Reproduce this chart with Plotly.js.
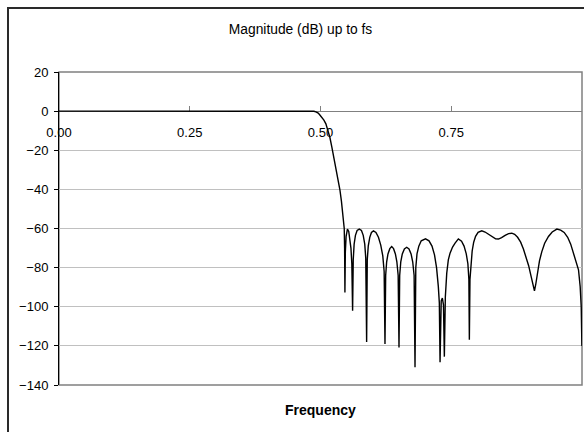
<!DOCTYPE html>
<html>
<head>
<meta charset="utf-8">
<script src="https://cdn.plot.ly/plotly-3.0.1.min.js"></script>
<style>
  html, body { margin: 0; padding: 0; background: #ffffff; overflow: hidden; }
  #chart { width: 584px; height: 432px; position: absolute; left: 0; top: 0; }
  #frame { position: absolute; left: 7px; top: 7px; width: 700px; height: 600px;
           border: 2px solid #2a2a2a; pointer-events: none; }
</style>
</head>
<body>
<div id="chart"></div>
<div id="frame"></div>
<script>
// Normalised frequency
const freq = [
  0.000, 0.100, 0.200, 0.300, 0.400, 0.470,
  0.4830, 0.4874, 0.4912, 0.4956, 0.4988, 0.5027, 0.5065, 0.5103, 0.5142, 0.5180,
  0.5218, 0.5257, 0.5295, 0.5333, 0.5371, 0.5400, 0.5423, 0.5442, 0.5454, 0.5461, 0.5467,
  0.5475, 0.5490, 0.5515, 0.5540, 0.5563, 0.5582, 0.5599, 0.5614,
  0.5626, 0.5643, 0.5668, 0.5700, 0.5741, 0.5783, 0.5817, 0.5846, 0.5865, 0.5882,
  0.5894, 0.5913, 0.5942, 0.5974, 0.6013, 0.6060, 0.6108, 0.6152, 0.6191, 0.6217, 0.6233,
  0.6246, 0.6265, 0.6290, 0.6325, 0.6361, 0.6397, 0.6432, 0.6460, 0.6485, 0.6501,
  0.6514, 0.6535, 0.6564, 0.6604, 0.6648, 0.6692, 0.6732, 0.6763, 0.6790, 0.6807,
  0.6822, 0.6845, 0.6880, 0.6926, 0.7008, 0.7075, 0.7132, 0.7180, 0.7219, 0.7253,
  0.7272, 0.7286, 0.7308, 0.7330, 0.7351, 0.7368,
  0.7387, 0.7414, 0.7444, 0.7477, 0.7525, 0.7573, 0.7636, 0.7697, 0.7745, 0.7787,
  0.7818, 0.7837, 0.7846,
  0.7858, 0.7877, 0.7900, 0.7929, 0.7965, 0.8013, 0.8084, 0.8147, 0.8214, 0.8281,
  0.8348, 0.8402, 0.8463, 0.8530, 0.8597, 0.8658, 0.8712, 0.8769, 0.8827, 0.8880,
  0.8932, 0.8980, 0.9027, 0.9066, 0.9091, 0.9116, 0.9148, 0.9187, 0.9232, 0.9286,
  0.9359, 0.9430, 0.9520, 0.9592, 0.9659, 0.9726, 0.9784, 0.9837, 0.9885, 0.9933,
  0.9965, 0.9985, 0.9998
];
// Magnitude in dB
const magDb = [
  0, 0, 0, 0, 0, 0,
  0, -0.1, -0.4, -1.0, -2.0, -3.2, -4.6, -6.5, -9.5, -13.5,
  -18.5, -24.0, -29.0, -34.5, -40.2, -46.0, -52.0, -57.0, -60.0, -70.0, -92.7,
  -72.0, -64.0, -60.3, -61.5, -65.0, -70.0, -78.0, -102.0,
  -76.0, -68.0, -63.5, -61.0, -60.3, -61.0, -63.5, -68.0, -75.0, -118.0,
  -76.0, -69.0, -64.5, -62.0, -61.2, -62.0, -64.5, -68.5, -74.0, -82.0, -119.1,
  -84.0, -77.0, -73.0, -70.3, -69.2, -70.3, -73.0, -77.0, -84.0, -120.8,
  -84.0, -77.0, -73.0, -70.5, -69.6, -70.5, -73.0, -77.0, -84.0, -130.9,
  -80.0, -73.0, -69.0, -66.3, -65.3, -66.3, -69.0, -73.5, -80.0, -89.7,
  -98.0, -128.4, -97.0, -95.6, -99.0, -125.5,
  -95.0, -82.8, -76.0, -72.6, -69.5, -67.5, -65.3, -66.5, -69.0, -73.0,
  -78.0, -86.0, -116.9,
  -86.0, -77.7, -71.5, -67.0, -64.0, -62.0, -61.2, -61.8, -63.0, -64.5,
  -65.3, -65.4, -64.7, -63.5, -62.6, -62.4, -63.0, -64.5, -67.0, -70.5,
  -74.5, -79.0, -84.5, -89.0, -91.9, -88.5, -82.8, -76.5, -71.8, -67.5,
  -64.1, -61.8, -60.3, -60.8, -62.0, -64.5, -68.0, -72.6, -76.5, -81.1,
  -89.7, -100.0, -120.0
];
const xTickVals = [0, 0.25, 0.5, 0.75];
const xTickText = ['0.00', '0.25', '0.50', '0.75'];
const yTickVals = [-140, -120, -100, -80, -60, -40, -20, 0, 20];

const FONT = '"Liberation Sans", Arial, sans-serif';

const trace = {
  x: freq, y: magDb, type: 'scatter', mode: 'lines',
  line: { color: '#000000', width: 1.4 },
  hoverinfo: 'skip'
};

const layout = {
  width: 584, height: 432,
  margin: { l: 59, r: 2, t: 72, b: 47, pad: 0 },
  paper_bgcolor: '#ffffff', plot_bgcolor: '#ffffff',
  showlegend: false,
  font: { family: FONT, size: 13, color: '#000000' },
  title: {
    text: 'Magnitude (dB) up to fs',
    font: { family: FONT, size: 13.8, color: '#000000' },
    xref: 'container', yref: 'container',
    x: 0.5147, y: 0.933, xanchor: 'center', yanchor: 'middle'
  },
  xaxis: {
    range: [0, 1.0],
    anchor: 'free', position: 0.875, side: 'bottom',
    tickmode: 'array', tickvals: xTickVals, ticktext: xTickText,
    ticks: 'inside', ticklen: 5, tickcolor: '#808080', tickwidth: 1,
    showline: true, linecolor: '#808080', linewidth: 1,
    showgrid: false, zeroline: false,
    layer: 'below traces',
    ticklabelstandoff: 9,
    tickfont: { family: FONT, size: 13, color: '#000000' }
  },
  yaxis: {
    range: [-140, 20],
    tickmode: 'array', tickvals: yTickVals,
    ticks: 'outside', ticklen: 4, tickcolor: '#000000', tickwidth: 1,
    showline: true, linecolor: '#000000', linewidth: 1,
    showgrid: true, gridcolor: '#c0c0c0', gridwidth: 1,
    zeroline: false,
    ticklabelstandoff: 3,
    tickfont: { family: FONT, size: 13, color: '#000000' }
  },
  shapes: [{
    type: 'rect', xref: 'paper', yref: 'paper', x0: 0, x1: 1, y0: 0, y1: 1,
    line: { color: '#808080', width: 1.5 }, layer: 'between'
  }],
  annotations: [{
    text: '<b>Frequency</b>', xref: 'paper', yref: 'paper',
    x: 0.5, y: -0.08, xanchor: 'center', yanchor: 'middle', showarrow: false,
    font: { family: FONT, size: 14, color: '#000000' }
  }]
};

Plotly.newPlot('chart', [trace], layout, { staticPlot: true, displayModeBar: false });
</script>
</body>
</html>
